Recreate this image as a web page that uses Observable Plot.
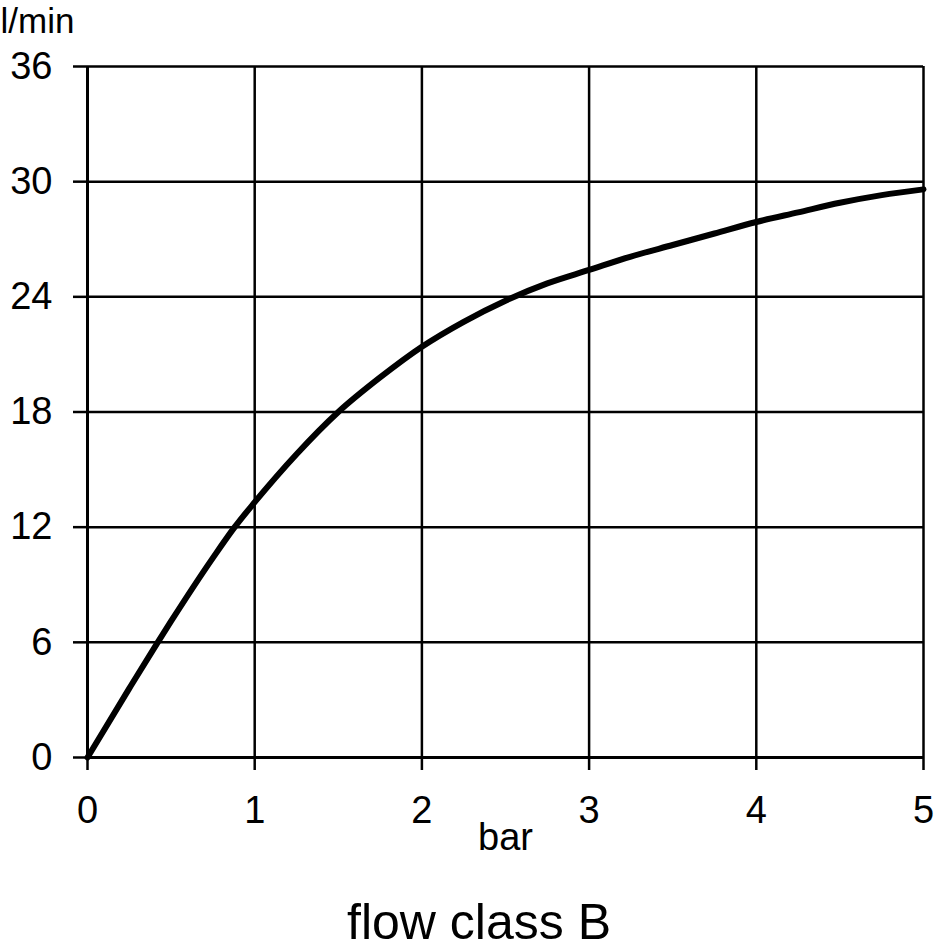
<!DOCTYPE html>
<html>
<head>
<meta charset="utf-8">
<script src="https://cdn.jsdelivr.net/npm/d3@7"></script>
<script src="https://cdn.jsdelivr.net/npm/@observablehq/plot@0.6"></script>
<style>
  body { margin: 0; background: #fff; overflow: hidden; }
  #chart svg { display: block; }
  #caption {
    width: 912px; padding-left: 23px; margin-top: 32px;
    text-align: center; font: 50px/40px "Liberation Sans", Arial, sans-serif; color: #000;
  }
</style>
</head>
<body>
<div id="chart"></div>
<div id="caption">flow class B</div>
<script>
// pressure (bar) vs flow (l/min)
const pressure = [0, 0.25, 0.42, 0.5, 0.75, 0.88, 1, 1.25, 1.5, 1.75, 2, 2.25, 2.5, 2.75, 3, 3.25, 3.5, 3.75, 4, 4.25, 4.5, 4.75, 5];
const flow = [0, 3.6, 6, 7.1, 10.4, 12, 13.3, 15.8, 18, 19.8, 21.4, 22.7, 23.8, 24.7, 25.4, 26.1, 26.7, 27.3, 27.9, 28.4, 28.9, 29.3, 29.6];
const xTicks = [0, 1, 2, 3, 4, 5];
const yTicks = [0, 6, 12, 18, 24, 30, 36];

const data = pressure.map((p, i) => ({bar: p, lmin: flow[i]}));
const font = '"Liberation Sans", Arial, sans-serif';

const chart = Plot.plot({
  width: 935,
  height: 870,
  marginLeft: 87,
  marginRight: 12,
  marginTop: 66,
  marginBottom: 113,
  style: {fontFamily: font, fontSize: "40px", color: "#000", background: "#fff"},
  x: {domain: [0, 5]},
  y: {domain: [0, 36]},
  marks: [
    Plot.gridX(xTicks.filter(d => d > 0), {stroke: "#000", strokeOpacity: 1, strokeWidth: 2.5}),
    Plot.gridY(yTicks.filter(d => d > 0), {stroke: "#000", strokeOpacity: 1, strokeWidth: 2.5}),
    Plot.axisX(xTicks, {tickSize: 13, tickPadding: 26, strokeWidth: 2.5, label: null, fontSize: 38, tickFormat: d3.format("d")}),
    Plot.axisY(yTicks, {tickSize: 14, tickPadding: 21, strokeWidth: 2.5, label: null, fontSize: 38, tickFormat: d3.format("d")}),
    Plot.ruleX([0], {strokeWidth: 3}),
    Plot.ruleY([0], {strokeWidth: 3}),
    Plot.line(data, {x: "bar", y: "lmin", stroke: "#000", strokeWidth: 6, curve: "monotone-x"}),
    Plot.text(["l/min"], {frameAnchor: "top-left", dx: -87, dy: -58, textAnchor: "start", lineAnchor: "top", fontSize: 35}),
    Plot.text(["bar"], {frameAnchor: "bottom", dy: 92, lineAnchor: "bottom", fontSize: 38})
  ]
});

document.getElementById("chart").append(chart);
</script>
</body>
</html>
